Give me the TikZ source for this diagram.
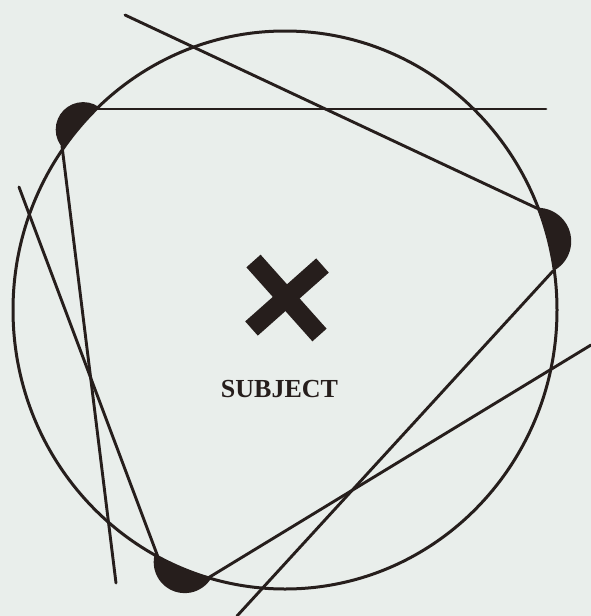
\documentclass[tikz,border=0pt]{standalone}
\usepackage{fontspec}
\setmainfont{Liberation Serif}
\definecolor{paper}{RGB}{233,238,235}
\definecolor{ink}{RGB}{38,30,28}
\tikzset{
  ray/.style={draw=ink, line width=2.9pt, line cap=round},
  ring/.style={draw=ink, line width=3pt},
  blob/.style={fill=ink},
  bar/.style={draw=ink, line width=19pt, line cap=butt},
}
\begin{document}
\begin{tikzpicture}[x=1pt,y=-1pt]
  % background / bounding box
  \fill[paper] (0,0) rectangle (591,616);
  \useasboundingbox (0,0) rectangle (591,616);
  % blobs (full disks, inner part hidden by the ring's fill)
  \fill[blob] (83.2,129.6) circle[radius=27.5];
  \fill[blob] (537.7,241.3) circle[radius=33.5];
  \fill[blob] (184.7,562.1) circle[radius=31];
  % the ring
  \fill[paper] (285,310) ellipse[x radius=272, y radius=279];
  \draw[ring] (285,310) ellipse[x radius=272, y radius=279];
  % end points
  \coordinate (h1) at (97,109);
  \coordinate (h2) at (546,109);
  \coordinate (a1) at (125,15);
  \coordinate (a2) at (545,212);
  \coordinate (b1) at (62,146);
  \coordinate (b2) at (116,583);
  \coordinate (c1) at (19,187);
  \coordinate (c2) at (158,557);
  \coordinate (d1) at (553,271);
  \coordinate (d2) at (237,616);
  \coordinate (e1) at (591,345);
  \coordinate (e2) at (208,578);
  % lines
  \draw[ray] (h1) -- (h2);
  \draw[ray] (a1) -- (a2);
  \draw[ray] (b1) -- (b2);
  \draw[ray] (c1) -- (c2);
  \draw[ray] (d1) -- (d2);
  \draw[ray] (e1) -- (e2);
  % the X
  \coordinate (x1) at (253.5,261);
  \coordinate (x2) at (319.5,335);
  \coordinate (x3) at (322.5,265.5);
  \coordinate (x4) at (251.5,328.5);
  \draw[bar] (x1) -- (x2);
  \draw[bar] (x3) -- (x4);
  % label
  \node[anchor=base, inner sep=0pt, text=ink, font=\fontsize{26}{30}\selectfont\bfseries] (subject) at (279.5,397) {SUBJECT};
\end{tikzpicture}
\end{document}
